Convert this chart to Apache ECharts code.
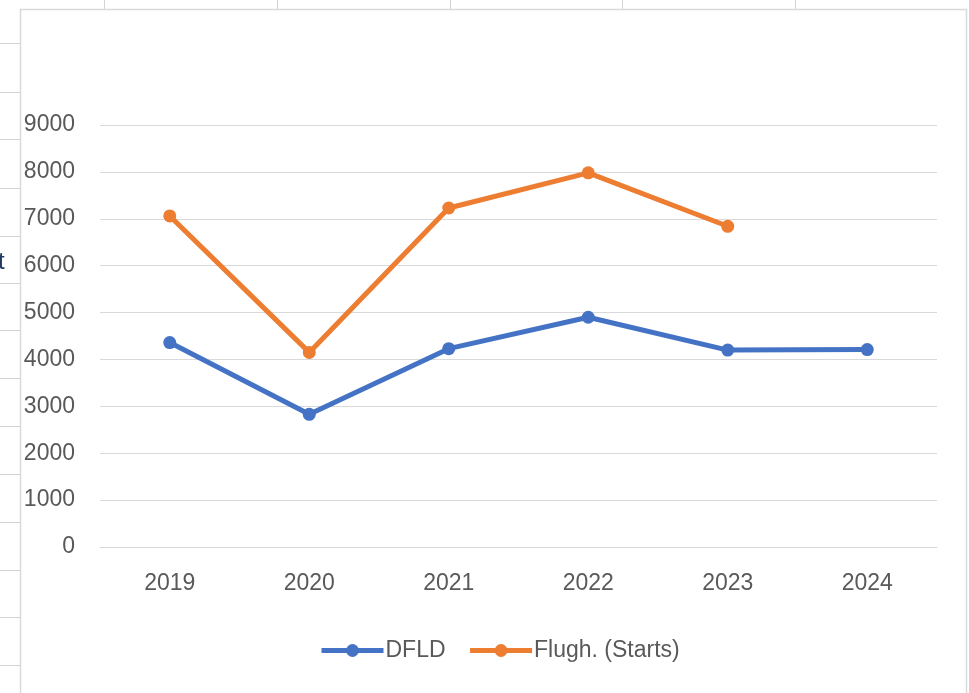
<!DOCTYPE html>
<html>
<head>
<meta charset="utf-8">
<script src="https://cdn.jsdelivr.net/npm/echarts@6/dist/echarts.min.js"></script>
<style>
html,body{margin:0;padding:0;background:#fff;}
#chart{width:969px;height:693px;}
</style>
</head>
<body>
<div id="chart"></div>
<script>
var categories = ['2019', '2020', '2021', '2022', '2023', '2024'];
var dfld = [4360, 2830, 4230, 4900, 4200, 4210];
var flugh = [7060, 4150, 7230, 7980, 6840, null];
var seriesNames = ['DFLD', 'Flugh. (Starts)'];
var yTicks = { min: 0, max: 9000, interval: 1000 };

var sheetLine = '#D4D4D4';
var graphics = [];
[104, 277, 450, 622, 795].forEach(function (x) {
  graphics.push({ type: 'line', shape: { x1: x + 0.5, y1: 0, x2: x + 0.5, y2: 9 }, style: { stroke: sheetLine, lineWidth: 1 }, silent: true });
});
[43, 92, 139, 188, 236, 283, 330, 378, 426, 474, 522, 570, 617, 665].forEach(function (y) {
  graphics.push({ type: 'line', shape: { x1: 0, y1: y + 0.5, x2: 20, y2: y + 0.5 }, style: { stroke: sheetLine, lineWidth: 1 }, silent: true });
});
graphics.push({ type: 'polyline', shape: { points: [[20.5, 693], [20.5, 9.5], [966.5, 9.5], [966.5, 693]] }, style: { stroke: '#D9D9D9', lineWidth: 1.5, fill: null }, silent: true });
graphics.push({ type: 'text', x: -2, y: 262, style: { text: 't', fill: '#1F3864', font: '24px "Liberation Sans"', verticalAlign: 'middle', align: 'left' }, silent: true });

var chart = echarts.init(document.getElementById('chart'), null, { renderer: 'canvas' });
chart.setOption({
  backgroundColor: '#ffffff',
  animation: false,
  textStyle: { fontFamily: 'Liberation Sans' },
  graphic: graphics,
  grid: { left: 100, right: 32, top: 125, bottom: 146, containLabel: false },
  legend: {
    data: seriesNames,
    left: 314,
    top: 634,
    itemWidth: 62,
    itemHeight: 16,
    itemGap: 22,
    lineStyle: { width: 5 },
    textStyle: { color: '#595959', fontSize: 23, fontFamily: 'Liberation Sans', padding: [0, 0, 0, -3] }
  },
  xAxis: {
    type: 'category',
    data: categories,
    boundaryGap: true,
    axisLine: { show: true, lineStyle: { color: '#D9D9D9', width: 1 } },
    axisTick: { show: false },
    axisLabel: { color: '#595959', fontSize: 23, margin: 25, fontFamily: 'Liberation Sans' },
    splitLine: { show: false }
  },
  yAxis: {
    type: 'value',
    min: yTicks.min,
    max: yTicks.max,
    interval: yTicks.interval,
    axisLine: { show: false },
    axisTick: { show: false },
    axisLabel: {
      color: '#595959', fontSize: 23, margin: 25, fontFamily: 'Liberation Sans',
      formatter: function (v) { return String(v); }
    },
    splitLine: { show: true, lineStyle: { color: '#D9D9D9', width: 1 } }
  },
  series: [
    {
      name: seriesNames[0],
      type: 'line',
      data: dfld,
      color: '#4472C4',
      lineStyle: { width: 5, color: '#4472C4' },
      symbol: 'circle',
      symbolSize: 13,
      itemStyle: { color: '#4472C4' }
    },
    {
      name: seriesNames[1],
      type: 'line',
      data: flugh,
      color: '#ED7D31',
      lineStyle: { width: 5, color: '#ED7D31' },
      symbol: 'circle',
      symbolSize: 13,
      itemStyle: { color: '#ED7D31' }
    }
  ]
});
</script>
</body>
</html>
